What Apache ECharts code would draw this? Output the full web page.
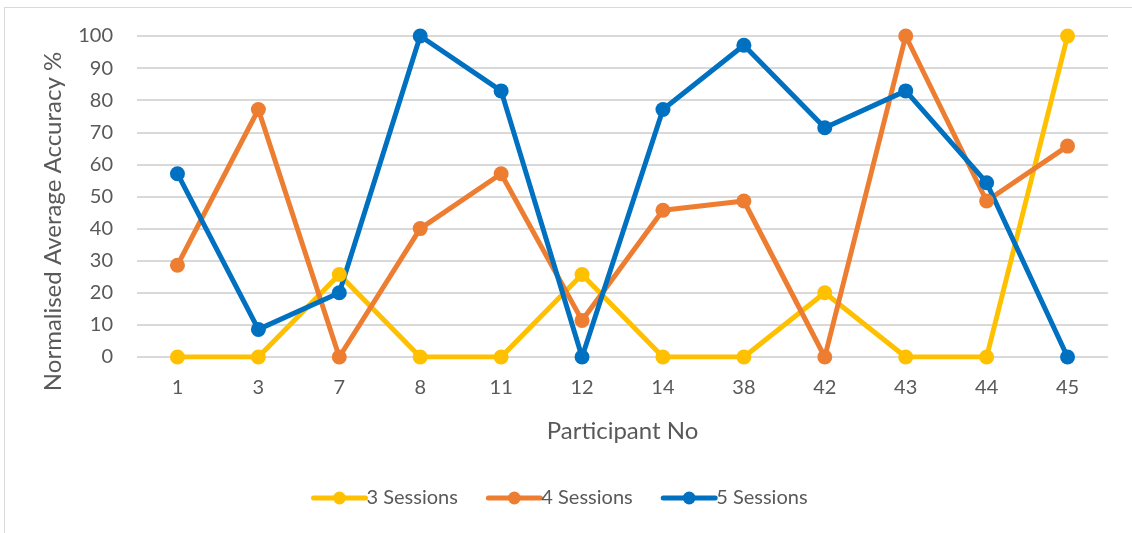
<!DOCTYPE html>
<html><head><meta charset="utf-8">
<script src="https://cdn.jsdelivr.net/npm/echarts@6/dist/echarts.min.js"></script>
<style>html,body{margin:0;padding:0;background:#fff}#c{width:1132px;height:533px}</style>
</head><body><div id="c"></div>
<script>
const categories = ['1','3','7','8','11','12','14','38','42','43','44','45'];
const sessions3 = [0,0,25.7,0,0,25.7,0,0,20,0,0,100];
const sessions4 = [28.6,77.1,0,40,57.1,11.4,45.7,48.6,0,100,48.6,65.7];
const sessions5 = [57.1,8.6,20,100,82.9,0,77.1,97.1,71.4,82.9,54.3,0];
const seriesNames = ['3 Sessions','4 Sessions','5 Sessions'];
const colors = ['#FFC000','#ED7D31','#0070C0'];
const font = 'Lato, "Open Sans", sans-serif';
const chart = echarts.init(document.getElementById('c'));
const mk = (name, data, color) => ({
  name, type: 'line', data, color,
  symbol: 'circle', symbolSize: 15,
  lineStyle: { width: 5, color, cap: 'round' },
  itemStyle: { color },
  z: 3
});
chart.setOption({
  animation: false,
  textStyle: { fontFamily: font },
  graphic: [
    { type: 'line', shape: { x1: 4.5, y1: 7, x2: 4.5, y2: 533 }, style: { stroke: '#d9d9d9', lineWidth: 1 } },
    { type: 'line', shape: { x1: 4, y1: 7.5, x2: 1132, y2: 7.5 }, style: { stroke: '#d9d9d9', lineWidth: 1 } }
  ],
  grid: { left: 137, right: 24, top: 36, bottom: 176, containLabel: false },
  legend: {
    bottom: 20, left: 306,
    itemWidth: 52, itemHeight: 16, itemGap: 28,
    lineStyle: { width: 5, cap: 'round' },
    textStyle: { fontSize: 20, color: '#595959', fontFamily: font, padding: [0, 0, 0, -4] },
    data: seriesNames
  },
  xAxis: {
    type: 'category', data: categories, boundaryGap: true,
    name: 'Participant No', nameLocation: 'middle', nameGap: 62,
    nameTextStyle: { fontSize: 24, color: '#595959', fontFamily: font },
    axisLine: { show: false }, axisTick: { show: false },
    axisLabel: { fontSize: 20, color: '#595959', margin: 21, fontFamily: font }
  },
  yAxis: {
    type: 'value', min: 0, max: 100, interval: 10,
    name: 'Normalised Average Accuracy %', nameLocation: 'middle', nameGap: 72,
    nameTextStyle: { fontSize: 24, color: '#595959', fontFamily: font, padding: [0, 50, 0, 0] },
    axisLine: { show: false }, axisTick: { show: false },
    axisLabel: { fontSize: 20, color: '#595959', margin: 24, fontFamily: font },
    splitLine: { lineStyle: { color: '#d9d9d9', width: 2 } }
  },
  series: [
    mk(seriesNames[0], sessions3, colors[0]),
    mk(seriesNames[1], sessions4, colors[1]),
    mk(seriesNames[2], sessions5, colors[2])
  ]
});
</script></body></html>
